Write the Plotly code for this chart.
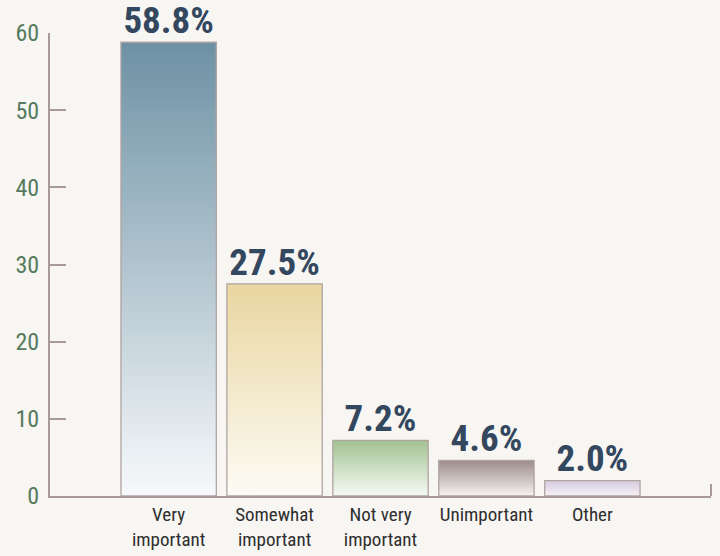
import plotly.graph_objects as go

categories = ["Very<br>important", "Somewhat<br>important", "Not very<br>important", "Unimportant", "Other"]
values = [58.8, 27.5, 7.2, 4.6, 2.0]
labels = ["58.8%", "27.5%", "7.2%", "4.6%", "2.0%"]
top_colors = ["#6d91a4", "#e9d6a0", "#a3c292", "#9c8b88", "#d6cade"]
bottom_colors = ["#f7f9fb", "#fdfbf5", "#f6faf4", "#f6f3f2", "#f5f2f7"]
y_ticks = [0, 10, 20, 30, 40, 50, 60]

FONT = "Liberation Sans Narrow, Roboto Condensed, Arial Narrow, sans-serif"
BAR_W = 0.9

fig = go.Figure()
for i, (v, tc, bc) in enumerate(zip(values, top_colors, bottom_colors)):
    x0, x1 = i - BAR_W / 2, i + BAR_W / 2
    fig.add_trace(go.Scatter(
        x=[x0, x0, x1, x1, x0], y=[0, v, v, 0, 0],
        mode="lines", fill="toself",
        line=dict(color="#b0a4a2", width=1.3),
        fillgradient=dict(type="vertical", colorscale=[[0, bc], [1, tc]], start=0, stop=v),
        hoverinfo="skip", showlegend=False,
    ))

fig.add_trace(go.Scatter(
    x=list(range(len(values))), y=values, mode="text", text=labels,
    textposition="top center",
    textfont=dict(family=FONT, size=37, color="#33475f", weight="bold"),
    cliponaxis=False, showlegend=False, hoverinfo="skip",
))

fig.update_layout(
    width=720, height=556,
    margin=dict(l=50, r=9, t=33, b=60),
    paper_bgcolor="#f8f6f3", plot_bgcolor="#f8f6f3",
    xaxis=dict(
        range=[-1.12, 5.12], tickvals=list(range(len(categories))), ticktext=categories,
        showgrid=False, zeroline=False, showline=True, linecolor="#a89896", linewidth=2,
        ticks="", tickfont=dict(family=FONT, size=19, color="#2e2e2e"),
        automargin=False, ticklabelstandoff=0,
    ),
    yaxis=dict(
        range=[0, 60], tickvals=y_ticks, showgrid=False, zeroline=False,
        showline=True, linecolor="#a89896", linewidth=2,
        ticks="inside", ticklen=16, tickwidth=2, tickcolor="#a89896",
        tickfont=dict(family=FONT, size=24, color="#557a5d"),
        ticklabelstandoff=4, automargin=False,
    ),
    shapes=[dict(type="line", xref="paper", yref="paper", x0=1, x1=1, y0=0, y1=0.026,
                 line=dict(color="#a89896", width=2))],
)

fig.write_html("out.html")
